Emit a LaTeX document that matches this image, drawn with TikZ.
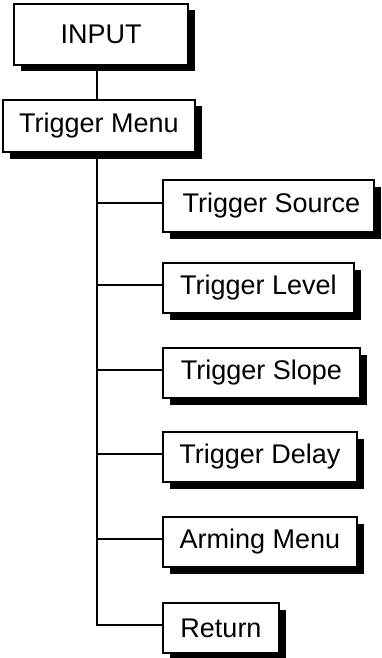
\documentclass[tikz,border=0pt]{standalone}
\usepackage{fontspec}
\setmainfont{Liberation Sans}
\usetikzlibrary{shadows}
\begin{document}
\begin{tikzpicture}[x=1pt,y=-1pt,
  box/.style={draw=black, line width=1.8pt, fill=white, rectangle, inner sep=0pt,
    font=\fontsize{27}{31}\selectfont,
    drop shadow={shadow xshift=6.5pt, shadow yshift=-6.5pt, fill=black, opacity=1}},
  link/.style={line width=2pt}]
\useasboundingbox (0,0) rectangle (382,658);
\node[box, minimum width=174pt, minimum height=61pt] (input) at (101,34.5) {INPUT};
\node[box, minimum width=192pt, minimum height=52pt] (menu) at (99,126) {Trigger Menu};
\node[box, minimum width=211pt, minimum height=52pt] (src) at (268.5,206) {\hspace{6pt}Trigger Source};
\node[box, minimum width=191pt, minimum height=50pt] (lvl) at (258.5,288) {Trigger Level};
\node[box, minimum width=197pt, minimum height=50pt] (slp) at (261.5,373) {Trigger Slope};
\node[box, minimum width=194pt, minimum height=50pt] (dly) at (260,457) {Trigger Delay};
\node[box, minimum width=194pt, minimum height=50pt] (arm) at (260,542) {Arming Menu};
\node[box, minimum width=116pt, minimum height=50pt] (ret) at (221,628) {Return};
\coordinate (t) at (97,0);
\draw[link] (input.south -| t) -- (menu.north -| t);
\draw[link] (menu.south -| t) |- ([yshift=3pt]ret.west);
\foreach \n in {src,lvl,slp,dly,arm}
  \draw[link] ([yshift=3pt]\n.west -| t) -- ([yshift=3pt]\n.west);
\end{tikzpicture}
\end{document}
